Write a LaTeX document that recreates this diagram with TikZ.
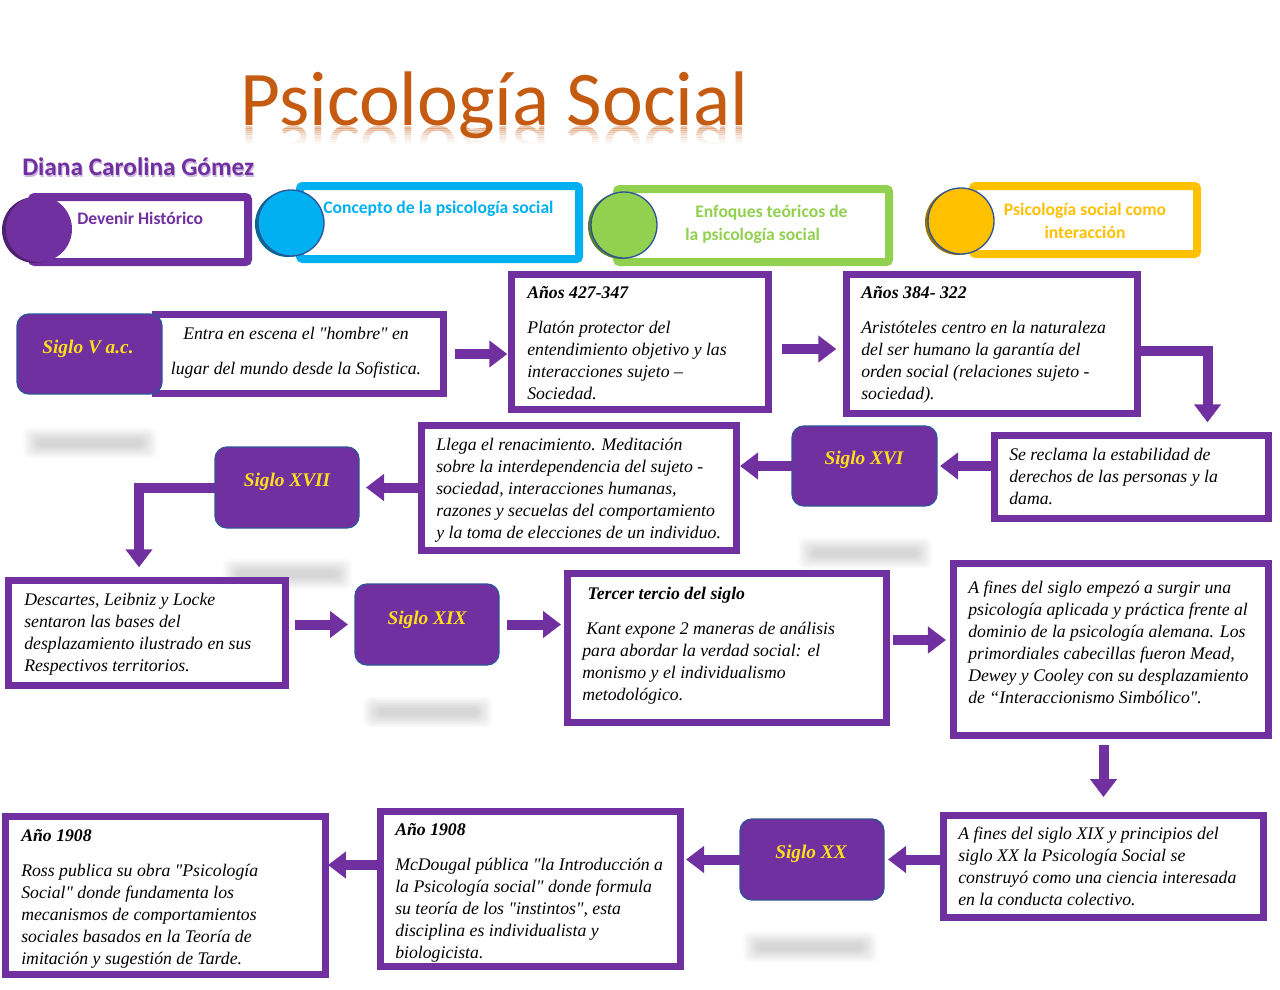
\documentclass[tikz,border=0pt]{standalone}
\usepackage{fontspec}
\setmainfont{Liberation Serif}[Ligatures=TeXOff]
\newfontfamily\calfont{Carlito}
\usetikzlibrary{arrows.meta,fit,calc}
\definecolor{purp}{HTML}{7030A0}
\definecolor{cyanb}{HTML}{00B0F0}
\definecolor{greenb}{HTML}{92D050}
\definecolor{yellowb}{HTML}{FFC000}
\definecolor{titleor}{HTML}{C55A11}
\definecolor{edgeblue}{HTML}{2F5597}
\definecolor{sigy}{HTML}{FFE01B}
\newcommand\purpbox[5]{\node[frame,fit={(#2+3.3,#3+3.3) (#4-3.3,#5-3.3)}] (#1) {};}
\newcommand\blurbar[3]{%
  \foreach \k in {0,...,7} {\fill[black,opacity=0.018,rounded corners=5pt] (#1+12-\k*2,#3-4-\k*1.6) rectangle (#2-12+\k*2,#3+4+\k*1.6);}}
\begin{document}
\begin{tikzpicture}[x=0.75pt,y=-0.75pt,
 frame/.style={draw=purp,line width=5pt,fill=white,inner sep=0pt,outer sep=0pt},
 hframe/.style={line width=6pt,fill=white,inner sep=0pt,outer sep=0pt,rounded corners=2pt},
 siglo/.style={draw=edgeblue,line width=1pt,fill=purp,rounded corners=9pt,inner sep=0pt,outer sep=0pt},
 sigt/.style={font=\bfseries\itshape\fontsize{14.5}{17}\selectfont,text=sigy,inner sep=0pt},
 body/.style={font=\itshape\fontsize{13.3}{16.5}\selectfont,align=left,anchor=north west,inner sep=0pt},
 arr/.style={draw=purp,line width=7.5pt,-{Triangle[length=13.5pt,width=19.5pt]}},
 hcirc/.style={circle,draw=edgeblue,line width=1pt,minimum size=49.5pt,inner sep=0pt},
 htext/.style={font=\calfont\bfseries\fontsize{13.2}{17.25}\selectfont,inner sep=0pt},
 titlefont/.style={font=\calfont\fontsize{58}{60}\selectfont,text=titleor,anchor=base west,inner sep=0pt},
]
\fill[white] (0,0) rectangle (1280,989);
\useasboundingbox (0,0) rectangle (1280,989);

% blurred shadows
\blurbar{25}{155}{443}
\blurbar{800}{930}{553}
\blurbar{225}{350}{574}
\blurbar{365}{490}{712}
\blurbar{745}{875}{947}

% title with fading reflection
\foreach \i/\op in {0/0.34,1/0.28,2/0.22,3/0.17,4/0.12,5/0.08,6/0.05,7/0.03} {
  \begin{scope}
  \clip (230,126+\i*2.2) rectangle (760,128.2+\i*2.2);
  \node[titlefont,opacity=\op,yscale=-1] at (240,126) {Psicología Social};
  \end{scope}
}
\node[titlefont] (title) at (240,125) {Psicología Social};
\node[font=\calfont\bfseries\fontsize{19}{22}\selectfont,text=purp!35,anchor=base west,inner sep=0pt] at (23,177.5) {Diana Carolina Gómez};
\node[font=\calfont\bfseries\fontsize{19}{22}\selectfont,text=purp,anchor=base west,inner sep=0pt] (author) at (22,175) {Diana Carolina Gómez};

% header boxes
\node[hframe,draw=purp,fit={(32,197) (248,262)}] (h1) {};
\node[hcirc,draw=none,fill=purp!70!black] at (35,230) {};
\node[hcirc,draw=none,fill=purp] (c1) at (39,229) {};
\node[htext,text=purp,anchor=west] (h1t) at (77,218) {Devenir Histórico};

\node[hframe,draw=cyanb,fit={(300,186) (579,259)}] (h2) {};
\node[hcirc,draw=none,fill=cyanb!60!black] at (288,224) {};
\node[hcirc,fill=cyanb] (c2) at (291,223) {};
\node[htext,text=cyanb,anchor=west] (h2t) at (323,209) {Concepto de la psicología social};

\node[hframe,draw=greenb,fit={(617,189) (889,262)}] (h3) {};
\node[hcirc,draw=none,fill=greenb!60!black] at (621,226) {};
\node[hcirc,fill=greenb] (c3) at (624,225) {};
\node[htext,text=greenb,align=left,anchor=west] (h3t) at (685,224.5) {\hspace*{7.5pt}Enfoques teóricos de\\la psicología social};

\node[hframe,draw=yellowb,fit={(973,186) (1197,254)}] (h4) {};
\node[hcirc,draw=none,fill=yellowb!60!black] at (958,222) {};
\node[hcirc,fill=yellowb] (c4) at (961,221) {};
\node[htext,text=yellowb,align=center] (h4t) at (1085,221) {Psicología social como\\interacción};

% row 1
\purpbox{t1}{152}{311}{447}{397}
\node[body,align=center,anchor=center,font=\itshape\fontsize{13.3}{26.25}\selectfont] (t1t) at (296,353) {Entra en escena el "hombre" en\\lugar del mundo desde la Sofistica.};
\node[siglo,fit={(17,314) (162,394)}] (s5) {};
\node[sigt] (s5t) at (88,349) {Siglo V a.c.};

\purpbox{b2}{508}{271}{772}{413}
\node[body] (b2t) at (527,286) {\textbf{Años 427-347}\\[9.75pt]Platón protector del\\entendimiento objetivo y las\\interacciones sujeto –\\Sociedad.};

\purpbox{b3}{843}{271}{1141}{417}
\node[body] (b3t) at (861,286) {\textbf{Años 384- 322}\\[9.75pt]Aristóteles centro en la naturaleza\\del ser humano la garantía del\\orden social (relaciones sujeto -\\sociedad).};

% row 2
\purpbox{b4}{991}{432}{1272}{522}
\node[body] (b4t) at (1009,448) {Se reclama la estabilidad de\\derechos de las personas y la\\dama.};
\node[siglo,fit={(792,426) (937,506)}] (s16) {};
\node[sigt] (s16t) at (864,460) {Siglo XVI};

\purpbox{b5}{418}{422}{740}{554}
\node[body] (b5t) at (436,438) {Llega el renacimiento. Meditación\\sobre la interdependencia del sujeto -\\sociedad, interacciones humanas,\\razones y secuelas del comportamiento\\y la toma de elecciones de un individuo.};

\node[siglo,fit={(215,447) (359,528)}] (s17) {};
\node[sigt] (s17t) at (287,482) {Siglo XVII};

% row 3
\purpbox{b6}{5}{577}{289}{689}
\node[body] (b6t) at (24,593) {Descartes, Leibniz y Locke\\sentaron las bases del\\desplazamiento ilustrado en sus\\Respectivos territorios.};
\node[siglo,fit={(355,584) (499,665)}] (s19) {};
\node[sigt] (s19t) at (427,620) {Siglo XIX};

\purpbox{b7}{564}{570}{890}{726}
\node[body] (b7t) at (582,587) {\hspace*{4pt}\textbf{Tercer tercio del siglo}\\[9.75pt]\hspace*{3pt}Kant expone 2 maneras de análisis\\para abordar la verdad social: el\\monismo y el individualismo\\metodológico.};

\purpbox{b8}{950}{560}{1272}{739}
\node[body] (b8t) at (968,581) {A fines del siglo empezó a surgir una\\psicología aplicada y práctica frente al\\dominio de la psicología alemana. Los\\primordiales cabecillas fueron Mead,\\Dewey y Cooley con su desplazamiento\\de “Interaccionismo Simbólico".};

% row 4
\purpbox{b9}{940}{812}{1267}{921}
\node[body] (b9t) at (958,827) {A fines del siglo XIX y principios del\\siglo XX la Psicología Social se\\construyó como una ciencia interesada\\en la conducta colectivo.};
\node[siglo,fit={(740,819) (884,900)}] (s20) {};
\node[sigt] (s20t) at (811,854) {Siglo XX};

\purpbox{b10}{377}{808}{684}{970}
\node[body] (b10t) at (395,823) {\textbf{Año 1908}\\[9.75pt]McDougal pública "la Introducción a\\la Psicología social" donde formula\\su teoría de los "instintos", esta\\disciplina es individualista y\\biologicista.};

\purpbox{b11}{2}{813}{329}{978}
\node[body] (b11t) at (21,829) {\textbf{Año 1908}\\[9.75pt]Ross publica su obra "Psicología\\Social" donde fundamenta los\\mecanismos de comportamientos\\sociales basados en la Teoría de\\imitación y sugestión de Tarde.};

% connectors
\draw[arr,shorten <=8.5pt,shorten >=3pt] (t1.east) -- (t1.east -| b2.west);
\coordinate (a2) at ($(b2.east)+(0,7)$);
\draw[arr,shorten <=10pt,shorten >=7.5pt] (a2) -- (a2 -| b3.west);
\coordinate (a3) at ($(b3.east)+(0,7)$);
\coordinate (a3e) at ($(b4.north)+(76,-13)$);
\draw[arr] (a3) -| (a3e);
\draw[arr,shorten <=2.25pt,shorten >=2.25pt] (b4.west |- s16) -- (s16.east);
\draw[arr,shorten >=2.5pt] (s16.west) -- (s16.west -| b5.east);
\draw[arr,shorten >=5.25pt] (b5.west |- s17) -- (s17.east);
\coordinate (a6e) at ($(b6.north)+(-8,-13)$);
\draw[arr] (s17.west) -| (a6e);
\draw[arr,shorten <=7pt,shorten >=5.25pt] (b6.east |- s19) -- (s19.west);
\draw[arr,shorten <=6pt,shorten >=4.7pt] (s19.east) -- (s19.east -| b7.west);
\coordinate (a7) at ($(b7.east)+(0,-8)$);
\draw[arr,shorten <=4.7pt,shorten >=5.5pt] (a7) -- (a7 -| b8.west);
\draw[arr,shorten <=7pt,shorten >=13.7pt] (b8.south -| b9.north) -- (b9.north);
\draw[arr,shorten >=3pt] (b9.west |- s20) -- (s20.east);
\draw[arr,shorten >=4pt] (s20.west) -- (s20.west -| b10.east);
\coordinate (a10) at ($(b10.west)+(0,-24)$);
\draw[arr,shorten >=1.7pt] (a10) -- (a10 -| b11.east);
\end{tikzpicture}
\end{document}
